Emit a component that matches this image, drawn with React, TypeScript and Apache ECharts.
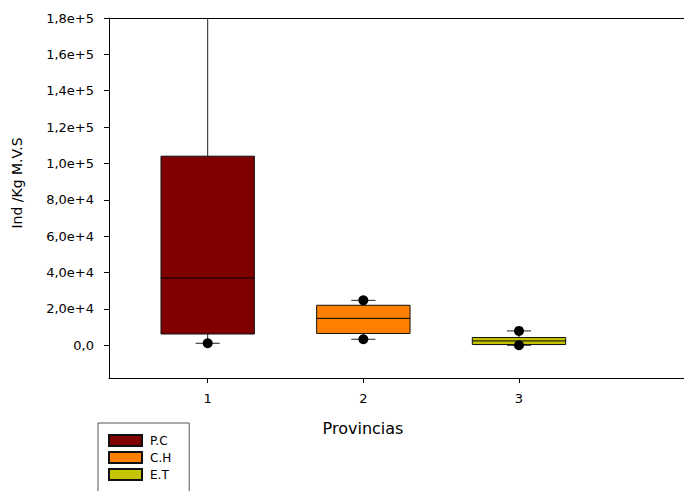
import React, { useEffect, useRef } from "react";
import * as echarts from "echarts";

// Provinces on the x axis and the group shown in each box
const provinces = [1, 2, 3];
const groupNames = ["P.C", "C.H", "E.T"];
const groupColors = ["#800000", "#ff8000", "#c4c400"];

// Box statistics per province (Ind/Kg M.V.S)
const lowerWhisker = [1100, 3300, 0];
const lowerQuartile = [6200, 6500, 400];
const medians = [37000, 14800, 2400];
const upperQuartile = [104000, 22000, 4250];
const upperWhisker = [230000, 24700, 7900];

// Individual points drawn at the whisker ends
const outlierProvince = [1, 2, 2, 3, 3];
const outlierValue = [1100, 24700, 3300, 7900, 0];

// Axis ticks
const yTickValues = [0, 20000, 40000, 60000, 80000, 100000, 120000, 140000, 160000, 180000];
const yTickLabels = ["0,0", "2,0e+4", "4,0e+4", "6,0e+4", "8,0e+4", "1,0e+5", "1,2e+5", "1,4e+5", "1,6e+5", "1,8e+5"];
const xTickValues = [1, 2, 3];

const FONT = "DejaVu Sans";
const BOX_WIDTH = 0.6;
const CAP_WIDTH = 0.155;

export default function App() {
  const ref = useRef<HTMLDivElement>(null);

  useEffect(() => {
    if (!ref.current) return;
    const chart = echarts.init(ref.current, undefined, { renderer: "svg" });

    const renderBox = (params: any, api: any) => {
      const x = api.value(0);
      const lo = api.value(1);
      const a = api.value(2);
      const m = api.value(3);
      const b = api.value(4);
      const hi = api.value(5);
      const cs = params.coordSys;
      const top = cs.y;
      const bottom = cs.y + cs.height;
      const clampY = (y: number) => Math.min(bottom, Math.max(top, y));
      const half = api.size([BOX_WIDTH, 0])[0] / 2;
      const capHalf = api.size([CAP_WIDTH, 0])[0] / 2;
      const cx = api.coord([x, m])[0];
      const py = (v: number) => api.coord([x, v])[1];
      const yLo = py(lo);
      const yA = py(a);
      const yM = py(m);
      const yB = py(b);
      const yHi = py(hi);
      const lineStyle = { stroke: "#222", lineWidth: 1 };
      const children: any[] = [
        { type: "line", shape: { x1: cx, y1: yA, x2: cx, y2: clampY(yLo) }, style: lineStyle },
        { type: "line", shape: { x1: cx, y1: yB, x2: cx, y2: clampY(yHi) }, style: lineStyle },
      ];
      if (yLo >= top && yLo <= bottom) {
        children.push({ type: "line", shape: { x1: cx - capHalf, y1: yLo, x2: cx + capHalf, y2: yLo }, style: lineStyle });
      }
      if (yHi >= top && yHi <= bottom) {
        children.push({ type: "line", shape: { x1: cx - capHalf, y1: yHi, x2: cx + capHalf, y2: yHi }, style: lineStyle });
      }
      children.push({
        type: "rect",
        shape: { x: cx - half, y: yB, width: half * 2, height: yA - yB },
        style: { fill: api.visual("color"), stroke: "#111", lineWidth: 1 },
      });
      children.push({ type: "line", shape: { x1: cx - half, y1: yM, x2: cx + half, y2: yM }, style: { stroke: "#000", lineWidth: 1 } });
      return { type: "group", children };
    };

    const boxSeries = provinces.map((p, i) => ({
      name: groupNames[i],
      type: "custom",
      renderItem: renderBox,
      itemStyle: { color: groupColors[i], borderColor: "#111", borderWidth: 1 },
      encode: { x: 0, y: [1, 2, 3, 4, 5] },
      data: [[p, lowerWhisker[i], lowerQuartile[i], medians[i], upperQuartile[i], upperWhisker[i]]],
    }));

    chart.setOption({
      animation: false,
      grid: { left: 109, top: 18, right: 0, bottom: 113, containLabel: false },
      xAxis: [
        {
          type: "value",
          min: 0.366,
          max: 4.06,
          position: "bottom",
          axisLine: { show: true, onZero: false, lineStyle: { color: "#000", width: 1 } },
          axisTick: { show: true, length: 5, customValues: xTickValues, lineStyle: { color: "#000" } },
          axisLabel: {
            customValues: xTickValues,
            formatter: (v: number) => String(v),
            margin: 14,
            fontSize: 13,
            fontFamily: FONT,
            color: "#000",
          },
          splitLine: { show: false },
        },
        {
          type: "value",
          min: 0.366,
          max: 4.06,
          position: "top",
          axisLine: { show: true, onZero: false, lineStyle: { color: "#000", width: 1 } },
          axisTick: { show: false },
          axisLabel: { show: false },
          splitLine: { show: false },
        },
      ],
      yAxis: {
        type: "value",
        min: -18000,
        max: 180000,
        position: "left",
        axisLine: { show: true, onZero: false, lineStyle: { color: "#000", width: 1 } },
        axisTick: { show: true, length: 5, customValues: yTickValues, lineStyle: { color: "#000" } },
        axisLabel: {
          customValues: yTickValues,
          formatter: (v: number) => {
            const i = yTickValues.indexOf(v);
            return i >= 0 ? yTickLabels[i] : "";
          },
          margin: 15,
          fontSize: 13,
          fontFamily: FONT,
          color: "#000",
        },
        splitLine: { show: false },
      },
      legend: {
        data: groupNames,
        orient: "vertical",
        left: 98,
        top: 423,
        height: 120,
        padding: [11, 18, 14, 10],
        itemWidth: 33,
        itemHeight: 11,
        itemGap: 4,
        icon: "rect",
        selectedMode: false,
        borderColor: "#555",
        borderWidth: 1,
        textStyle: { fontSize: 12, fontFamily: FONT, color: "#000", padding: [0, 0, 0, 3] },
      },
      graphic: [
        {
          type: "text",
          x: 17,
          y: 183,
          rotation: Math.PI / 2,
          style: {
            text: "Ind /Kg M.V.S",
            fontSize: 14,
            fontFamily: FONT,
            fill: "#000",
            align: "center",
            verticalAlign: "middle",
          },
        },
        {
          type: "text",
          x: 363,
          y: 428,
          style: {
            text: "Provincias",
            fontSize: 16,
            fontFamily: FONT,
            fill: "#000",
            align: "center",
            verticalAlign: "middle",
          },
        },
      ],
      series: [
        ...boxSeries,
        {
          name: "points",
          type: "scatter",
          symbol: "circle",
          symbolSize: 10,
          itemStyle: { color: "#000", opacity: 1 },
          data: outlierProvince.map((p, i) => [p, outlierValue[i]]),
          z: 5,
        },
      ],
    });

    return () => chart.dispose();
  }, []);

  return (
    <div
      ref={ref}
      style={{ position: "fixed", left: 0, top: 0, width: 684, height: 491, background: "#fff" }}
    />
  );
}
